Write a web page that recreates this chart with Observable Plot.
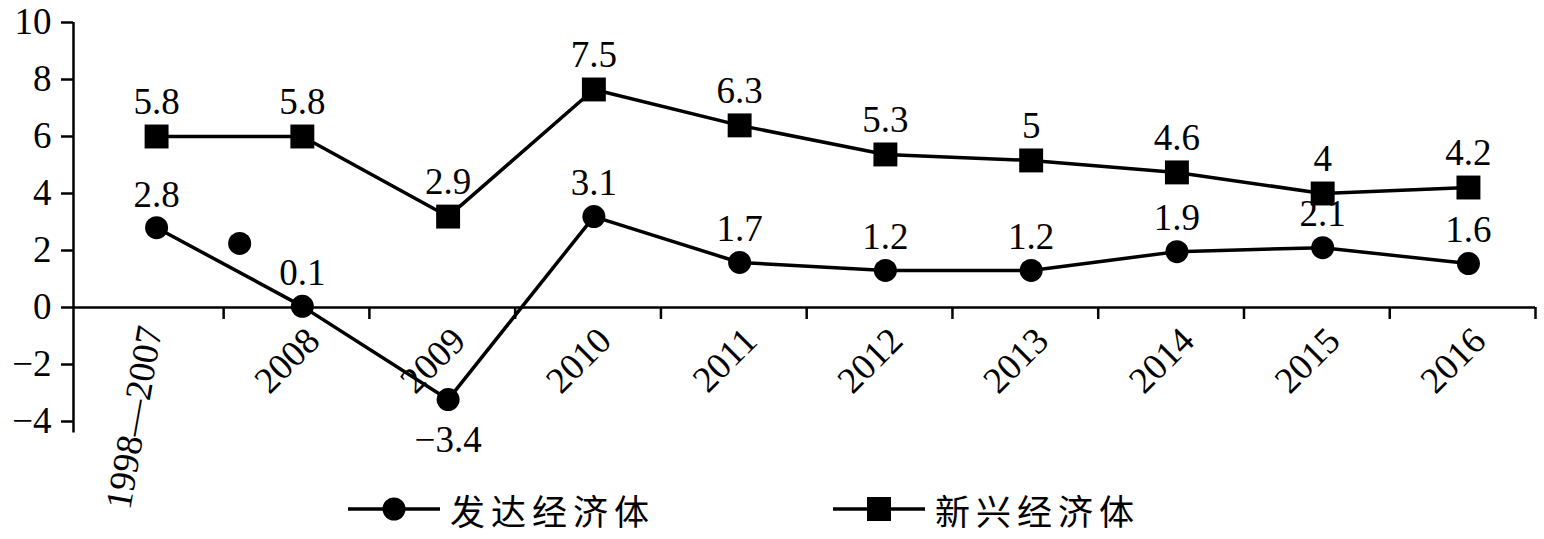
<!DOCTYPE html>
<html><head><meta charset="utf-8">
<script src="https://cdn.jsdelivr.net/npm/d3@7"></script>
<script src="https://cdn.jsdelivr.net/npm/@observablehq/plot@0.6"></script>
<style>
html,body{margin:0;padding:0;background:#fff;}
#chart svg{display:block;}
#legend{position:relative;width:1544px;height:59px;}
#legend .item{position:absolute;top:0;height:59px;display:flex;align-items:center;}
#legend .lbl{font-family:"Noto Sans CJK SC",sans-serif;font-size:35px;letter-spacing:6px;color:#000;margin-left:10px;}
</style></head><body>
<div id="chart"></div>
<div id="legend"></div>
<script>
const categories = ["1998—2007","2008","2009","2010","2011","2012","2013","2014","2015","2016"];
const developedValues = [2.8, 0.04, -3.23, 3.19, 1.58, 1.3, 1.3, 1.96, 2.1, 1.54];
const developedLabels = ["2.8","0.1","−3.4","3.1","1.7","1.2","1.2","1.9","2.1","1.6"];
const emergingValues = [6.0, 6.0, 3.19, 7.65, 6.39, 5.37, 5.16, 4.74, 4.0, 4.21];
const emergingLabels = ["5.8","5.8","2.9","7.5","6.3","5.3","5","4.6","4","4.2"];
const strayPoint = [{pos: 1.11, value: 2.25}];
const yTicks = [-4, -2, 0, 2, 4, 6, 8, 10];
const seriesNames = ["发达经济体", "新兴经济体"];

const font = "'Liberation Serif', serif";
(function () {
  const c = document.createElement("canvas").getContext("2d");
  for (const b of ["monospace", "sans-serif", "serif"]) {
    c.font = "37px 'Liberation Serif', " + b;
    c.measureText("0123456789.−— 1998—2007");
  }
})();

const center = 0.54;
const xStart = -0.03;
const dev = categories.map((c, i) => ({cat: c, pos: i + center, value: developedValues[i], label: developedLabels[i]}));
const emg = categories.map((c, i) => ({cat: c, pos: i + center, value: emergingValues[i], label: emergingLabels[i]}));
const boundaries = d3.range(1, categories.length + 1);

const chart = Plot.plot({
  width: 1544, height: 480,
  marginTop: 22, marginBottom: 59, marginLeft: 73, marginRight: 9,
  style: {fontSize: "36px", color: "#000", background: "#fff", overflow: "visible"},
  x: {type: "linear", domain: [xStart, categories.length], axis: null},
  y: {domain: [-4, 10], axis: null},
  marks: [
    Plot.axisY({ticks: yTicks, tickSize: 12, tickPadding: 10, fontSize: 37, strokeWidth: 2.5,
      tickFormat: d => d < 0 ? "−" + Math.abs(d) : String(d), label: null}),
    Plot.ruleX([xStart], {y1: -4.4, y2: 10, strokeWidth: 2.5}),
    Plot.ruleY([0], {x1: xStart, x2: categories.length, strokeWidth: 2.5}),
    Plot.ruleX(boundaries, {y1: 0, y2: -0.42, strokeWidth: 2.5}),
    Plot.text(dev.slice(1), {x: "pos", y: 0, text: "cat", rotate: -45, textAnchor: "end", dx: 11, dy: 27, fontSize: 37}),
    Plot.text(dev.slice(0, 1), {x: "pos", y: 0, text: "cat", rotate: -80, textAnchor: "end", dx: -6, dy: 19, fontSize: 37}),
    Plot.line(dev, {x: "pos", y: "value", stroke: "#000", strokeWidth: 3.5}),
    Plot.line(emg, {x: "pos", y: "value", stroke: "#000", strokeWidth: 3.5}),
    Plot.dot(dev, {x: "pos", y: "value", r: 11.5, fill: "#000"}),
    Plot.dot(strayPoint, {x: "pos", y: "value", r: 11.5, fill: "#000"}),
    Plot.dot(emg, {x: "pos", y: "value", symbol: "square", r: 13.5, fill: "#000"}),
    Plot.text(dev.filter(d => d.value >= 0), {x: "pos", y: "value", text: "label", dy: -33, fontSize: 37}),
    Plot.text(dev.filter(d => d.value < 0), {x: "pos", y: "value", text: "label", dy: 41, fontSize: 37}),
    Plot.text(emg, {x: "pos", y: "value", text: "label", dy: -34, fontSize: 37})
  ]
});
chart.style.fontFamily = font;
chart.querySelectorAll("text").forEach(t => t.style.fontFamily = font);
document.getElementById("chart").append(chart);

const legend = document.getElementById("legend");
const items = [
  {left: 348, name: seriesNames[0], shape: "circle"},
  {left: 833, name: seriesNames[1], shape: "square"}
];
for (const it of items) {
  const div = document.createElement("div");
  div.className = "item";
  div.style.left = it.left + "px";
  const sym = it.shape === "circle"
    ? '<circle cx="46" cy="15" r="11.5" fill="#000"/>'
    : '<rect x="34" y="3" width="24" height="24" fill="#000"/>';
  div.innerHTML = '<svg width="92" height="30" style="margin-top:-2px"><line x1="0" x2="92" y1="15" y2="15" stroke="#000" stroke-width="3.5"/>' + sym + '</svg><span class="lbl">' + it.name + '</span>';
  legend.append(div);
}
</script>
</body></html>
